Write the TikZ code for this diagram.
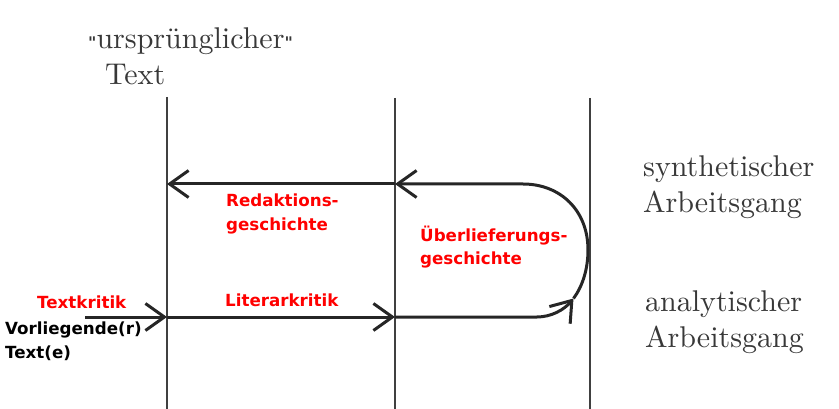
\documentclass[tikz,border=0pt]{standalone}
\usepackage{fontspec}
\newfontfamily\labelfont{DejaVu Sans}
\newfontfamily\phasefont{lmroman10-regular.otf}
\usetikzlibrary{positioning, arrows.meta}

\begin{document}
\begin{tikzpicture}[
    x=1pt, y=-1pt,
    axis/.style={draw=black!75, line width=1.8pt},
    flow/.style={draw=black!85, line width=3pt},
    tip/.style={-{Straight Barb[length=19pt, width=27pt, line width=3pt]}},
    phase/.style={font=\phasefont\fontsize{30}{36}\selectfont, text=black!78, align=left, inner sep=0pt},
    method/.style={font=\labelfont\bfseries\fontsize{16.7}{23.5}\selectfont, text=red, align=left, inner sep=0pt},
    given/.style={method, text=black}
]
\useasboundingbox (0,0) rectangle (839,409);

% Stations (vertical lines)
\coordinate (origtop) at (167,97);
\coordinate (origbot) at (167,409);
\coordinate (redtop) at (395,98);
\coordinate (redbot) at (395,409);
\coordinate (turntop) at (590,98);
\coordinate (turnbot) at (590,409);
\draw[axis] (origtop) -- (origbot);
\draw[axis] (redtop) -- (redbot);
\draw[axis] (turntop) -- (turnbot);

% Crossing points
\coordinate (start) at (85,317);
\coordinate (origana) at (167,317);
\coordinate (redana) at (395,317);
\coordinate (turnmid) at (573.5,298.5);
\coordinate (redsyn) at (395,184);
\coordinate (origsyn) at (167,184);

% Analytic way
\draw[flow, tip] (start) -- (origana);
\draw[flow, tip] (origana) -- (redana);
\draw[flow, tip] (redana) -- (537,317) .. controls (551,317) and (564,310) .. (turnmid);

% Synthetic way
\draw[flow, tip] (turnmid) .. controls (582,287) and (588,270) .. (588,250)
    .. controls (588,210) and (560,184) .. (523,184) -- (redsyn);
\draw[flow, tip] (redsyn) -- (origsyn);

% Labels (anchored at the baseline of the last line)
\node[phase, anchor=base west] (orig) at (88,85)
    {{\labelfont\bfseries\fontsize{16}{16}\selectfont"}ursprünglicher{\labelfont\bfseries\fontsize{16}{16}\selectfont"}\\\hspace{17pt}Text};
\node[phase, anchor=base west] (syn) at (643,213) {synthetischer\\Arbeitsgang};
\node[phase, anchor=base west] (ana) at (645,347) {analytischer\\Arbeitsgang};

\node[method, anchor=base west] (redak) at (226,230) {Redaktions-\\geschichte};
\node[method, anchor=base west] (ueber) at (420,265) {Überlieferungs-\\geschichte};
\node[method, anchor=base west] (textkr) at (37,308) {Textkritik};
\node[method, anchor=base west] (litkr) at (225,306) {Literarkritik};
\node[given, anchor=base west] (vorl) at (5,358) {Vorliegende(r)\\Text(e)};

\end{tikzpicture}
\end{document}
